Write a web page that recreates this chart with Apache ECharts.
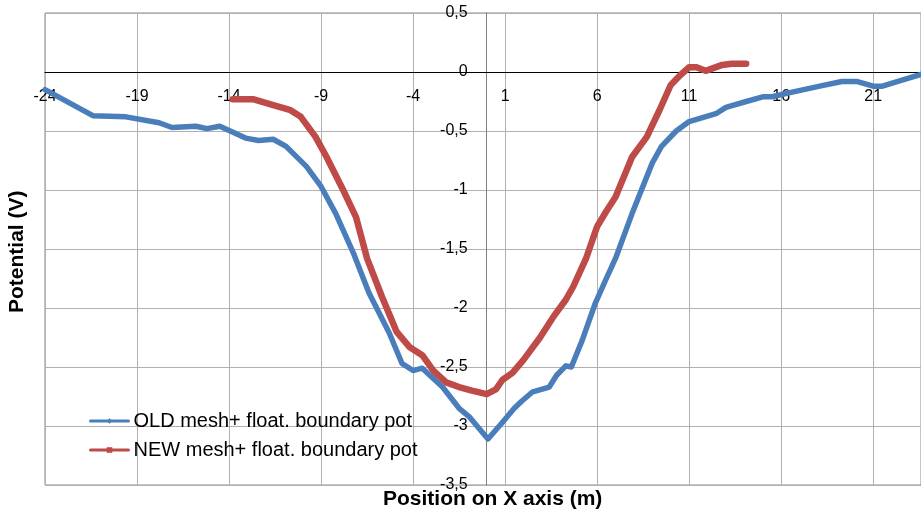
<!DOCTYPE html>
<html>
<head>
<meta charset="utf-8">
<script src="https://cdn.jsdelivr.net/npm/echarts@6/dist/echarts.min.js"></script>
<style>
html,body{margin:0;padding:0;background:#fff;}
#chart{width:921px;height:518px;}
</style>
</head>
<body>
<div id="chart"></div>
<script>
// ---- data ----
var seriesNames = ['OLD mesh+ float. boundary pot', 'NEW mesh+ float. boundary pot'];
var xTickMin = -24, xTickStep = 5, xMax = 23.6;
var yTickMin = -3.5, yTickMax = 0.5, yTickStep = 0.5;
var axisTitleX = 'Position on X axis (m)';
var axisTitleY = 'Potential (V)';

var oldX = [-24, -21.4, -19.6, -17.8, -17.1, -15.8, -15.2, -14.5, -13.1, -12.4, -11.6, -10.9, -9.8, -9.0, -8.2, -7.2, -6.4, -5.3, -4.6, -4.0, -3.5, -2.4, -1.5, -0.96, 0.07, 0.85, 1.5, 1.9, 2.5, 3.4, 3.8, 4.3, 4.6, 5.2, 5.9, 6.5, 7.0, 7.9, 9.0, 9.5, 10.3, 11.0, 12.5, 13.0, 14.1, 15.0, 15.5, 16.6, 18.1, 19.3, 20.1, 21.0, 21.5, 23.6];
var oldY = [-0.15, -0.37, -0.38, -0.43, -0.47, -0.46, -0.48, -0.46, -0.56, -0.58, -0.57, -0.63, -0.80, -0.97, -1.20, -1.55, -1.87, -2.21, -2.47, -2.53, -2.51, -2.67, -2.85, -2.92, -3.11, -2.97, -2.85, -2.79, -2.71, -2.67, -2.57, -2.49, -2.50, -2.27, -1.96, -1.75, -1.58, -1.20, -0.77, -0.63, -0.50, -0.42, -0.35, -0.30, -0.25, -0.21, -0.21, -0.17, -0.12, -0.08, -0.08, -0.12, -0.12, -0.02];

var newX = [-13.8, -12.7, -11.6, -10.7, -10.1, -9.3, -8.7, -7.8, -7.1, -6.5, -5.7, -4.9, -4.2, -3.5, -2.9, -2.2, -1.5, -0.8, 0.0, 0.5, 0.85, 1.4, 2.0, 2.9, 3.6, 4.3, 4.7, 5.4, 6.0, 6.5, 7.0, 7.9, 8.7, 9.4, 10.0, 10.5, 11.0, 11.4, 11.9, 12.8, 13.3, 14.1];
var newY = [-0.23, -0.23, -0.28, -0.32, -0.38, -0.55, -0.72, -1.00, -1.23, -1.58, -1.90, -2.20, -2.33, -2.40, -2.53, -2.63, -2.67, -2.70, -2.73, -2.69, -2.61, -2.55, -2.44, -2.25, -2.08, -1.93, -1.82, -1.58, -1.31, -1.18, -1.06, -0.72, -0.55, -0.32, -0.11, -0.03, 0.04, 0.04, 0.01, 0.06, 0.07, 0.07];

function pairs(xs, ys) { return xs.map(function (x, i) { return [x, ys[i]]; }); }
function comma(v) { return String(v).replace('.', ','); }

var FONT = '"Liberation Sans", Arial, sans-serif';
var W = 921, H = 518;
var gridL = 45, gridR = 0, gridT = 13, gridB = 33;
var plotW = W - gridL - gridR, plotH = H - gridT - gridB;
// place the axes (line + labels) where the other axis crosses zero
var xAxisOffset = -plotH * (0 - yTickMin) / (yTickMax - yTickMin);
var yAxisOffset = -plotW * (0 - xTickMin) / (xMax - xTickMin);

var chart = echarts.init(document.getElementById('chart'), null, {renderer: 'canvas'});
chart.setOption({
  animation: false,
  backgroundColor: '#ffffff',
  textStyle: {fontFamily: FONT, color: '#000'},
  grid: {left: gridL, right: gridR, top: gridT, bottom: gridB, containLabel: false,
         show: true, borderColor: '#8c8c8c', borderWidth: 1, backgroundColor: 'transparent'},
  xAxis: {
    type: 'value', min: xTickMin, max: xMax, interval: xTickStep,
    position: 'bottom', offset: xAxisOffset,
    axisLine: {onZero: false, lineStyle: {color: '#000', width: 1}},
    axisTick: {show: false},
    axisLabel: {
      margin: 17, fontSize: 16, color: '#000', fontFamily: FONT,
      showMaxLabel: false,
      formatter: function (v) { return Math.abs(v - Math.round(v)) < 1e-6 ? comma(Math.round(v)) : ''; }
    },
    splitLine: {show: true, lineStyle: {color: '#b0b0b0', width: 1}}
  },
  yAxis: {
    type: 'value', min: yTickMin, max: yTickMax, interval: yTickStep,
    position: 'left', offset: yAxisOffset,
    axisLine: {show: true, onZero: false, lineStyle: {color: '#808080', width: 1}},
    axisTick: {show: false},
    axisLabel: {margin: 19, fontSize: 16, color: '#000', fontFamily: FONT, formatter: function (v) { return comma(v); }},
    splitLine: {show: true, lineStyle: {color: '#b0b0b0', width: 1}}
  },
  legend: {
    orient: 'vertical', left: 84, top: 406, itemGap: 9,
    itemWidth: 38, itemHeight: 7,
    lineStyle: {width: 3},
    textStyle: {fontSize: 20, color: '#000', fontFamily: FONT},
    data: seriesNames
  },
  series: [
    {
      name: seriesNames[0], type: 'line', data: pairs(oldX, oldY),
      showSymbol: false, symbol: 'diamond', symbolSize: 5,
      lineStyle: {color: '#4a7ebb', width: 5.5, join: 'round', cap: 'round'},
      itemStyle: {color: '#4a7ebb'}
    },
    {
      name: seriesNames[1], type: 'line', data: pairs(newX, newY),
      showSymbol: false, symbol: 'rect', symbolSize: 5,
      lineStyle: {color: '#be4b48', width: 6.5, join: 'round', cap: 'round'},
      itemStyle: {color: '#be4b48'}
    }
  ],
  graphic: [
    {type: 'text', left: 383, top: 489, style: {text: axisTitleX, font: 'bold 21px ' + FONT, fill: '#000'}},
    {type: 'text', x: 7, y: 313, rotation: Math.PI / 2, style: {text: axisTitleY, font: 'bold 21px ' + FONT, fill: '#000'}}
  ]
});
</script>
</body>
</html>
